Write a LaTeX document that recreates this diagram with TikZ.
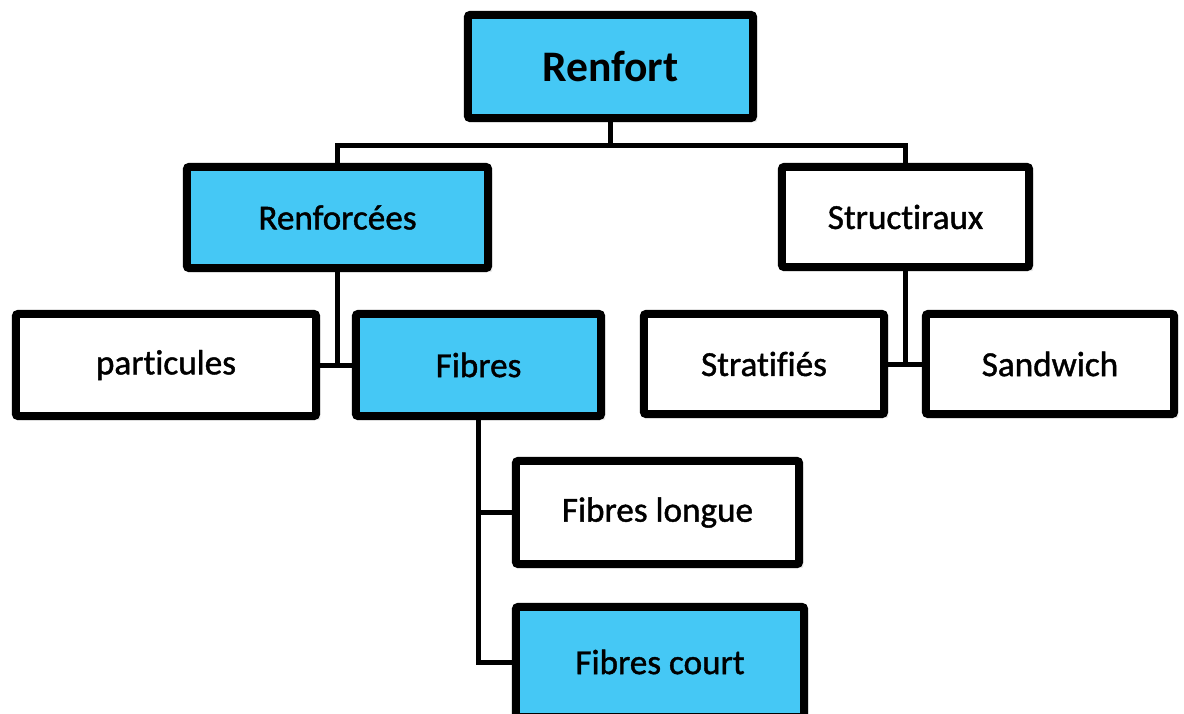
\documentclass[tikz,border=0pt]{standalone}
\usepackage{fontspec}
\setmainfont[Ligatures=NoCommon]{Carlito}
\newfontfamily\boxfont[Ligatures=NoCommon, FakeBold=1.2]{Carlito}
\usetikzlibrary{shadows}
\definecolor{renfortblue}{RGB}{69,200,245}

\begin{document}
\begin{tikzpicture}[x=0.025cm, y=-0.025cm,
    box/.style={rectangle, draw=black, line width=0.2cm, fill=white,
        rounded corners=1.5pt, inner sep=0pt,
        font=\boxfont\fontsize{25}{29}\selectfont,
        drop shadow={opacity=0.18, shadow xshift=3pt, shadow yshift=-3pt}},
    bluebox/.style={box, fill=renfortblue},
    link/.style={line width=0.125cm, -}
]
    \useasboundingbox (0,0) rectangle (1184,713);

    \node[bluebox, minimum width=7.125cm, minimum height=2.575cm,
        font=\fontsize{31}{35}\selectfont\bfseries] (renfort) at (610.5,66.5) {Renfort};
    \node[bluebox, minimum width=7.525cm, minimum height=2.525cm] (renforcees) at (337.5,217.5) {Renforcées};
    \node[box, minimum width=6.175cm, minimum height=2.5cm] (structiraux) at (905.5,217) {Structiraux};
    \node[box, minimum width=7.5cm, minimum height=2.55cm] (particules) at (166,365) {particules};
    \node[bluebox, minimum width=6.125cm, minimum height=2.55cm] (fibres) at (478.5,365) {Fibres};
    \node[box, minimum width=6cm, minimum height=2.5cm] (stratifies) at (764,364) {Stratifiés};
    \node[box, minimum width=6.2cm, minimum height=2.5cm] (sandwich) at (1050,364) {Sandwich};
    \node[box, minimum width=7.075cm, minimum height=2.575cm] (longue) at (657.5,512.5) {Fibres longue};
    \node[bluebox, minimum width=7.2cm, minimum height=2.75cm] (court) at (660,662) {Fibres court};

    \draw[link] (renfort.south) -- ++(0,23) coordinate (split);
    \draw[link] (renforcees.north) |- (split) -| (structiraux.north);
    \draw[link] (renforcees.south) -- (renforcees.south |- particules.east);
    \draw[link] (particules.east) -- (fibres.west);
    \draw[link] (structiraux.south) -- (structiraux.south |- stratifies.east);
    \draw[link] (stratifies.east) -- (sandwich.west);
    \draw[link] (fibres.south) |- (court.west);
    \draw[link] (fibres.south |- longue.west) -- (longue.west);
\end{tikzpicture}
\end{document}
